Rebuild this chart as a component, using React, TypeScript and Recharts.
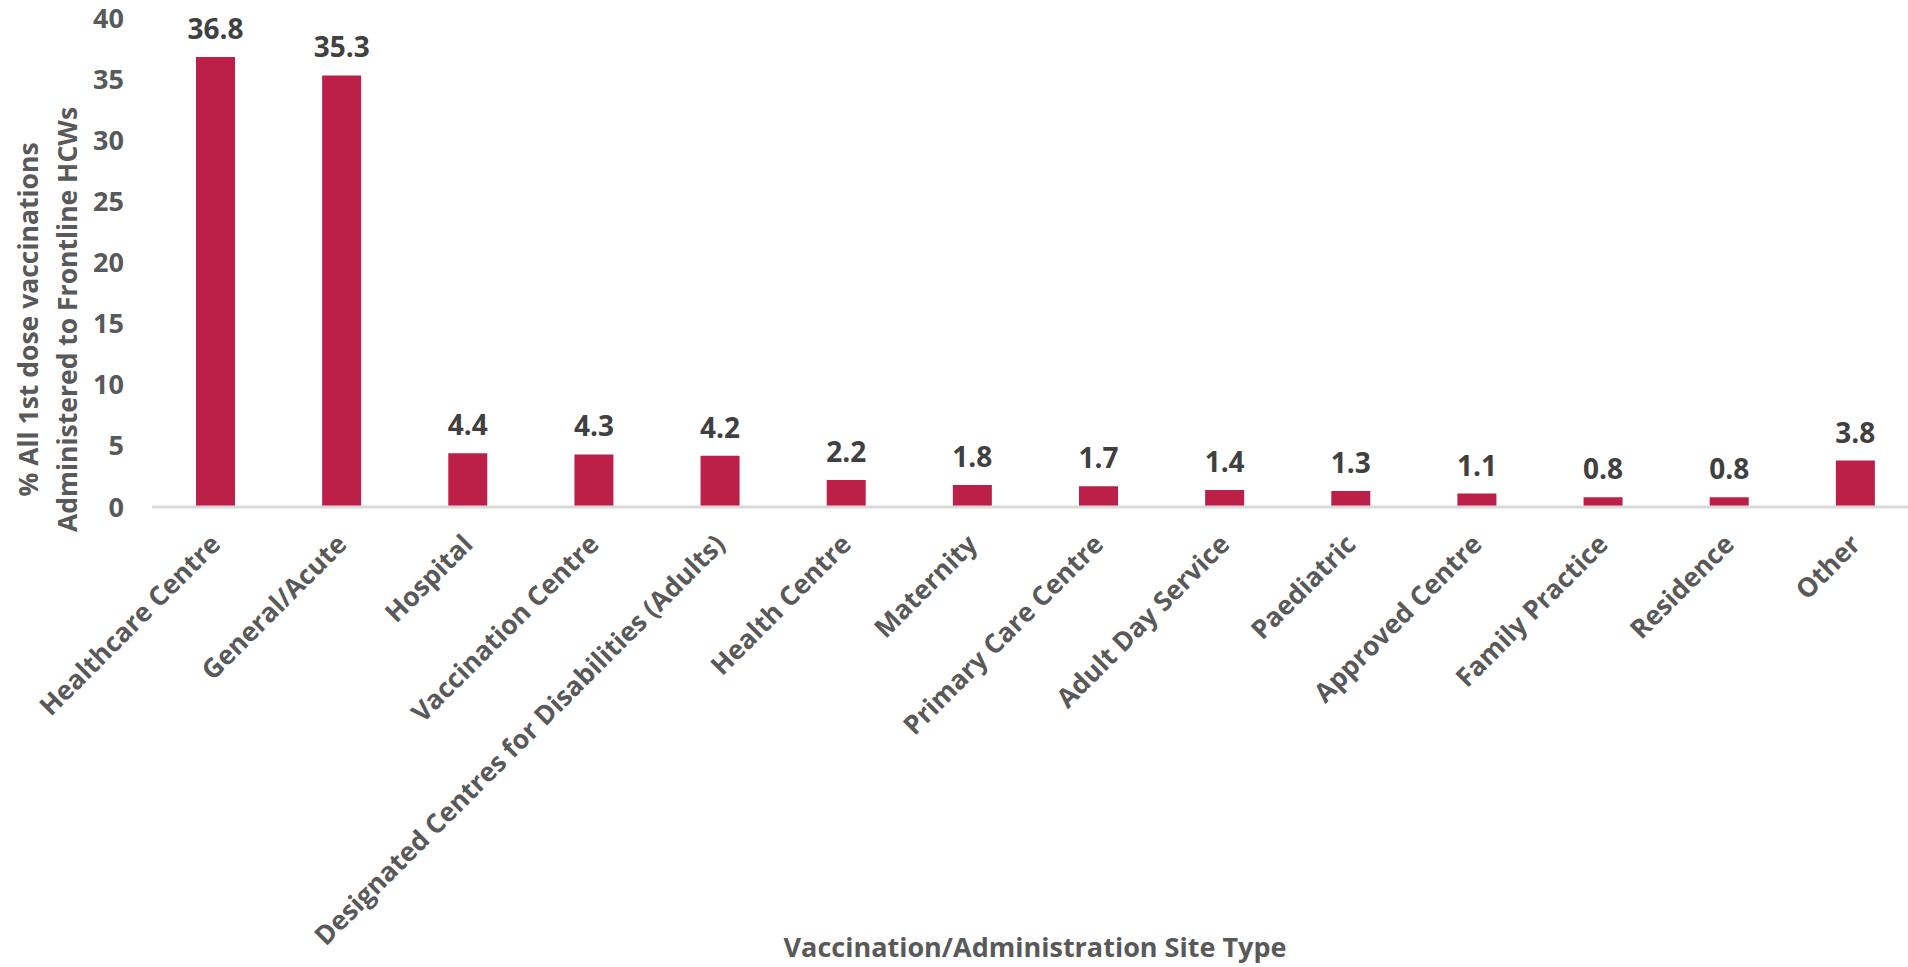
import React from "react";
import { BarChart, Bar, XAxis, YAxis, LabelList } from "recharts";

const siteTypes = [
  "Healthcare Centre",
  "General/Acute",
  "Hospital",
  "Vaccination Centre",
  "Designated Centres for Disabilities (Adults)",
  "Health Centre",
  "Maternity",
  "Primary Care Centre",
  "Adult Day Service",
  "Paediatric",
  "Approved Centre",
  "Family Practice",
  "Residence",
  "Other",
];

const sharePct = [36.8, 35.3, 4.4, 4.3, 4.2, 2.2, 1.8, 1.7, 1.4, 1.3, 1.1, 0.8, 0.8, 3.8];

const yTicks = [0, 5, 10, 15, 20, 25, 30, 35, 40];

const yTitleLines = ["% All 1st dose vaccinations", "Administered to Frontline HCWs"];
const xTitle = "Vaccination/Administration Site Type";

const data = siteTypes.map((site, i) => ({ site, share: sharePct[i] }));

const FONT = '"Open Sans", "Noto Sans", sans-serif';
const GREY = "#595959";
const BAR = "#BC1F47";

const SiteTick = (props: any) => {
  const { x, y, payload } = props;
  const ax = x + 7;
  const ay = y + 31;
  return (
    <text
      x={ax}
      y={ay}
      transform={`rotate(-45, ${ax}, ${ay})`}
      textAnchor="end"
      fill={GREY}
      fontFamily={FONT}
      fontWeight={700}
      fontSize={26.5}
    >
      {payload.value}
    </text>
  );
};

const YTitle = (props: any) => {
  const { viewBox } = props;
  const cy = viewBox.y + viewBox.height / 2 + 57;
  const xs = [38, 77];
  return (
    <g>
      {yTitleLines.map((line, i) => (
        <text
          key={line}
          x={xs[i]}
          y={cy}
          transform={`rotate(-90, ${xs[i]}, ${cy})`}
          textAnchor="middle"
          fill={GREY}
          fontFamily={FONT}
          fontWeight={700}
          fontSize={26.5}
        >
          {line}
        </text>
      ))}
    </g>
  );
};

export default function App() {
  return (
    <div style={{ width: 1908, height: 967, background: "#fff" }}>
      <style>{"body{margin:0}"}</style>
      <BarChart
        width={1908}
        height={967}
        data={data}
        margin={{ top: 18, right: -10, bottom: 0, left: 0 }}
        barSize={39}
      >
        <XAxis
          dataKey="site"
          interval={0}
          height={460}
          tickLine={false}
          axisLine={{ stroke: "#D9D9D9", strokeWidth: 3 }}
          tick={<SiteTick />}
          label={{
            value: xTitle,
            position: "insideBottom",
            offset: 10,
            fill: GREY,
            fontFamily: FONT,
            fontWeight: 700,
            fontSize: 27,
          }}
        />
        <YAxis
          width={152}
          domain={[0, 40]}
          ticks={yTicks}
          axisLine={false}
          tickLine={false}
          tickMargin={22}
          tick={{ fill: GREY, fontFamily: FONT, fontWeight: 700, fontSize: 27 }}
          label={<YTitle />}
        />
        <Bar dataKey="share" fill={BAR} isAnimationActive={false}>
          <LabelList
            dataKey="share"
            position="top"
            offset={18}
            fill="#404040"
            fontFamily={FONT}
            fontWeight={700}
            fontSize={28}
            formatter={(v: any) => Number(v).toFixed(1)}
          />
        </Bar>
      </BarChart>
    </div>
  );
}
